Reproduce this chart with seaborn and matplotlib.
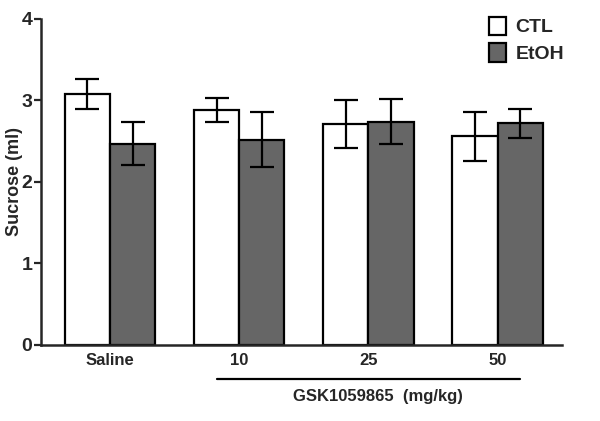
import numpy as np
import pandas as pd
import matplotlib
matplotlib.use("Agg")
import matplotlib.pyplot as plt
import seaborn as sns
from matplotlib.patches import Patch

# ── data ──────────────────────────────────────────────────────────────────────
doses     = ["Saline", "10", "25", "50"]
groups    = ["CTL", "EtOH"]
ctl_mean  = [3.08, 2.88, 2.71, 2.56]
ctl_sem   = [0.18, 0.15, 0.30, 0.30]
etoh_mean = [2.47, 2.52, 2.74, 2.72]
etoh_sem  = [0.26, 0.34, 0.28, 0.18]
colors    = {"CTL": "#ffffff", "EtOH": "#666666"}

df = pd.DataFrame({
    "dose":  doses * 2,
    "group": ["CTL"] * 4 + ["EtOH"] * 4,
    "mean":  ctl_mean + etoh_mean,
    "sem":   ctl_sem + etoh_sem,
})

sns.set_style("ticks")
plt.rcParams["font.family"] = ["Liberation Sans", "DejaVu Sans"]
plt.rcParams["font.weight"] = "bold"

fig = plt.figure(figsize=(6.0, 4.21), dpi=100)
ax = fig.add_axes([0.068, 0.181, 0.869, 0.774])

sns.barplot(data=df, x="dose", y="mean", hue="group", order=doses,
            hue_order=groups, palette=colors, width=0.7, errorbar=None,
            edgecolor="black", linewidth=1.6, legend=False, ax=ax)

# error bars placed on the bar patches seaborn drew
for cont, g in zip(ax.containers, groups):
    sub = df[df["group"] == g].set_index("dose").loc[doses]
    xs = [p.get_x() + p.get_width() / 2 for p in cont.patches]
    ax.errorbar(xs, sub["mean"], yerr=sub["sem"], fmt="none",
                ecolor="black", elinewidth=1.6, capsize=8.5, capthick=1.6,
                zorder=3)

ax.set_xlim(-0.535, 3.5)
ax.set_ylim(0, 4)
ax.set_yticks([0, 1, 2, 3, 4])
ax.set_ylabel("Sucrose (ml)", fontsize=13, fontweight="bold")
ax.yaxis.set_label_coords(-0.034, 0.5)
ax.set_xlabel("")
ax.tick_params(axis="x", length=0, labelsize=12, pad=6)
ax.tick_params(axis="y", length=5, width=1.6, labelsize=14, pad=1)
for lbl in ax.get_xticklabels() + ax.get_yticklabels():
    lbl.set_fontweight("bold")
sns.despine(ax=ax)
for s in ["left", "bottom"]:
    ax.spines[s].set_linewidth(1.8)

# drug bracket under the dose labels
fig.add_artist(plt.Line2D([217 / 600, 520 / 600], [1 - 379 / 421, 1 - 379 / 421],
                          color="black", lw=1.6))
fig.text(378 / 600, 1 - 397 / 421, "GSK1059865  (mg/kg)", ha="center",
         va="center", fontsize=12, fontweight="bold")

handles = [Patch(facecolor=colors[g], edgecolor="black", linewidth=1.6, label=g)
           for g in groups]
leg = fig.legend(handles=handles, loc="upper left",
                 bbox_to_anchor=(471 / 600, 1 + 1 / 421), frameon=False,
                 fontsize=14, handlelength=0.9, handleheight=1.1,
                 handletextpad=0.5, labelspacing=0.35)
for t in leg.get_texts():
    t.set_fontweight("bold")

fig.savefig("out.png", dpi=100)
